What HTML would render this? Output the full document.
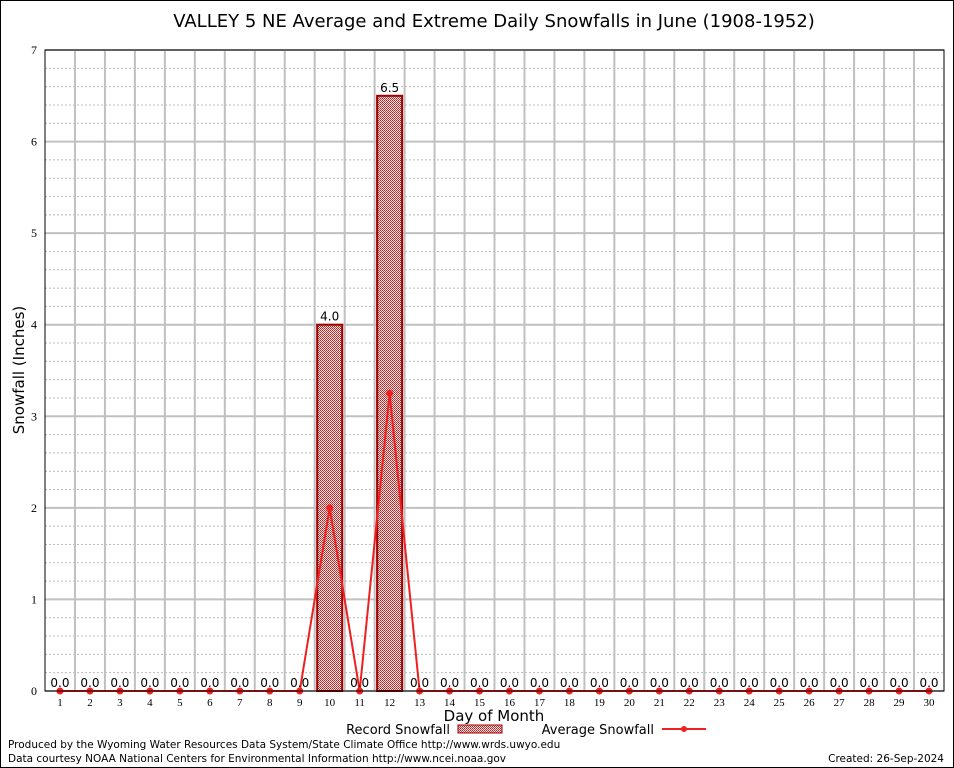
<!DOCTYPE html>
<html><head><meta charset="utf-8"><style>
html,body{margin:0;padding:0;background:#fff}
svg{display:block;font-family:"DejaVu Sans","Liberation Sans",sans-serif}
</style></head><body>
<svg id="c" width="954" height="768" xmlns="http://www.w3.org/2000/svg">
<defs>
<pattern id="hatch" width="2" height="2" patternUnits="userSpaceOnUse">
<rect width="2" height="2" fill="#f4e4e4"/><rect width="1" height="1" fill="#b02020"/><rect x="1" y="1" width="1" height="1" fill="#c04040"/>
</pattern>
</defs>
<rect x="0.5" y="0.5" width="953" height="767" fill="#fff" stroke="#000"/>
<text x="494" y="27" font-size="18" text-anchor="middle">VALLEY 5 NE Average and Extreme Daily Snowfalls in June (1908-1952)</text>
<g id="grid"></g>
<g id="bars"></g>
<g id="line"></g>
<g id="labels"></g>
<rect x="45" y="50" width="899" height="641" fill="none" stroke="#000"/>
<text transform="translate(24,370) rotate(-90)" font-size="15" text-anchor="middle">Snowfall (Inches)</text>
<text x="494" y="721" font-size="15" text-anchor="middle">Day of Month</text>
<g>
<text x="450" y="734" font-size="13" text-anchor="end">Record Snowfall</text>
<rect x="458" y="725" width="44" height="8" fill="url(#hatch)" stroke="#a00000"/>
</g>
<g>
<text x="654" y="734" font-size="13" text-anchor="end">Average Snowfall</text>
<line x1="662" y1="729" x2="706" y2="729" stroke="#f02020" stroke-width="2"/>
<circle cx="684" cy="729" r="3" fill="#f02020"/>
</g>
<text x="8" y="748" font-size="10.5">Produced by the Wyoming Water Resources Data System/State Climate Office http://www.wrds.uwyo.edu</text>
<text x="8" y="762" font-size="10.5">Data courtesy NOAA National Centers for Environmental Information http://www.ncei.noaa.gov</text>
<text x="944" y="762" font-size="10.5" text-anchor="end">Created: 26-Sep-2024</text>
</svg>
<script>
const days=[1,2,3,4,5,6,7,8,9,10,11,12,13,14,15,16,17,18,19,20,21,22,23,24,25,26,27,28,29,30];
const recordSnow=[0,0,0,0,0,0,0,0,0,4.0,0,6.5,0,0,0,0,0,0,0,0,0,0,0,0,0,0,0,0,0,0];
const avgSnow=[0,0,0,0,0,0,0,0,0,2.0,0,3.25,0,0,0,0,0,0,0,0,0,0,0,0,0,0,0,0,0,0];
const yTicks=[0,1,2,3,4,5,6,7];
const NS="http://www.w3.org/2000/svg";
const L=45,R=944,T=50,B=691,yMax=7;
const slot=(R-L)/days.length;
const x=d=>L+(d-0.5)*slot;
const y=v=>B-v/yMax*(B-T);
function mk(tag,attrs,parent,txt){const e=document.createElementNS(NS,tag);for(const k in attrs)e.setAttribute(k,attrs[k]);if(txt!==undefined)e.textContent=txt;parent.appendChild(e);return e;}
const grid=document.getElementById('grid'),bars=document.getElementById('bars'),line=document.getElementById('line'),labels=document.getElementById('labels');
for(let v=0.2;v<yMax;v+=0.2){if(Math.abs(v-Math.round(v))<0.01)continue;
 const g=mk('line',{x1:L,x2:R,y1:y(v),y2:y(v),stroke:'#bbb','stroke-dasharray':'2,2','stroke-width':1},grid);
 
 }
yTicks.forEach(t=>{
 const g=mk('line',{x1:L,x2:R,y1:y(t),y2:y(t),stroke:'#c0c0c0','stroke-width':2},grid);
 
 
 const tx=mk('text',{x:L-8,y:y(t)+4,'font-size':12,'text-anchor':'end','font-family':'Liberation Serif, serif'},labels,String(t));
 
 
});
for(let i=1;i<days.length;i++){
 const g=mk('line',{x1:L+i*slot,x2:L+i*slot,y1:T,y2:B,stroke:'#c0c0c0','stroke-width':2},grid);
 
 
}
days.forEach((d,i)=>{
 const v=recordSnow[i];
 if(v>0){
  const r=mk('rect',{x:x(d)-12.5,y:y(v),width:25,height:B-y(v),fill:'url(#hatch)',stroke:'#a00000','stroke-width':2},bars);
  
  
 }
 const lb=mk('text',{x:x(d),y:y(v)-4,'font-size':12,'text-anchor':'middle'},labels,v.toFixed(1));
 
 
 const tk=mk('text',{x:x(d),y:B+15,'font-size':11,'text-anchor':'middle','font-family':'Liberation Serif, serif'},labels,String(d));
 
 
});
const pts=days.map((d,i)=>x(d)+','+y(avgSnow[i])).join(' ');
const pl=mk('polyline',{points:pts,fill:'none',stroke:'#f02020','stroke-width':2},line);


days.forEach((d,i)=>{
 const c=mk('circle',{cx:x(d),cy:y(avgSnow[i]),r:3.5,fill:'#f02020'},line);
 
 
});
</script>
</body></html>
